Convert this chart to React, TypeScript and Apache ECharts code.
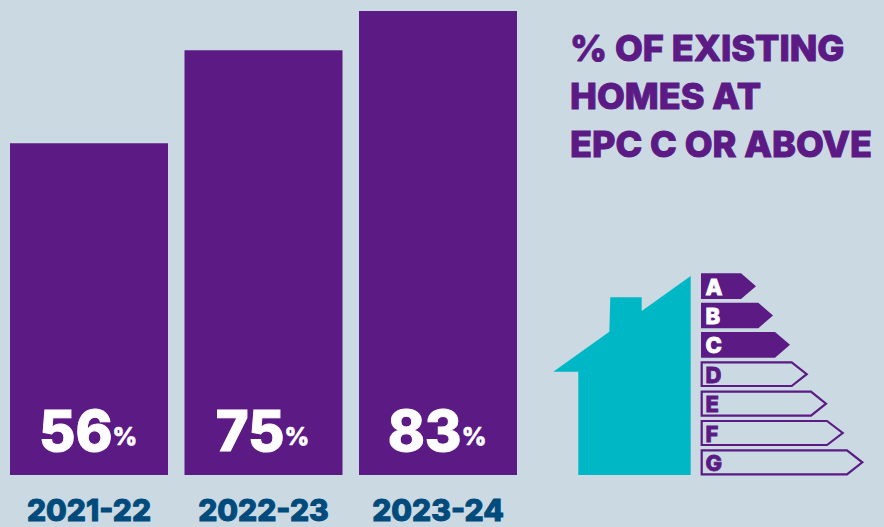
import React, { useEffect, useRef } from "react";
import * as echarts from "echarts";

const years = ["2021-22", "2022-23", "2023-24"];
const shareAtEpcC = [56, 75, 83];
const axisFloor = -11.8;
const axisCeil = 83;
const titleLines = ["% OF EXISTING", "HOMES AT", "EPC C OR ABOVE"];
const bandLetters = ["A", "B", "C", "D", "E", "F", "G"];
const filledBands = 3;

const PURPLE = "#5c1a85";
const TEAL = "#00b8c5";
const NAVY = "#004b7c";
const PAPER = "#cbd9e3";
const FONT = "Inter, 'Noto Sans', sans-serif";

// Page coordinates of the house silhouette.
const housePoints = [
  [690.7, 276], [690.7, 475], [578.3, 475], [578.3, 371.7], [553.3, 371.7],
  [609.3, 331.7], [610.3, 297.3], [641.7, 297.3], [641.7, 311],
];
// Each rating band: left edge, shoulder, tip, top, bottom.
const bandShapes = [
  [701, 741, 756, 273.3, 299],
  [701, 758.3, 773, 302.7, 328.3],
  [701, 775, 790, 332, 357.7],
  [701.7, 791.7, 806.7, 362.3, 386],
  [701.7, 811, 826, 391.7, 415.7],
  [701.7, 827, 842.7, 421, 445],
  [701.7, 847, 862.3, 450.3, 474.3],
];

function ratingBands() {
  return bandShapes.flatMap(([l, s, t, top, bottom], i) => {
    const filled = i < filledBands;
    const ink = filled ? "#ffffff" : PURPLE;
    return [
      {
        type: "polygon",
        shape: { points: [[l, top], [s, top], [t, (top + bottom) / 2], [s, bottom], [l, bottom]] },
        style: filled
          ? { fill: PURPLE, stroke: PURPLE, lineWidth: 0 }
          : { fill: "transparent", stroke: PURPLE, lineWidth: 2.2 },
      },
      {
        type: "text",
        x: 705.5,
        y: (top + bottom) / 2 + 0.5,
        style: {
          text: bandLetters[i],
          fill: ink,
          stroke: ink,
          lineWidth: 0.8,
          font: `800 22px ${FONT}`,
          verticalAlign: "middle",
        },
      },
    ];
  });
}

export default function App() {
  const ref = useRef<HTMLDivElement>(null);

  useEffect(() => {
    const chart = echarts.init(ref.current, undefined, { renderer: "svg" });
    chart.setOption({
      animation: false,
      backgroundColor: PAPER,
      title: {
        text: titleLines.join("\n"),
        left: 570,
        top: 24,
        padding: 0,
        textStyle: {
          color: PURPLE,
          fontFamily: FONT,
          fontWeight: 800,
          fontSize: 36,
          lineHeight: 48,
          textBorderColor: PURPLE,
          textBorderWidth: 1,
        },
      },
      grid: { left: 1.75, width: 523.5, top: 11, bottom: 52 },
      xAxis: {
        type: "category",
        data: years,
        axisLine: { show: false },
        axisTick: { show: false },
        axisLabel: {
          color: NAVY,
          fontFamily: FONT,
          fontWeight: 800,
          fontSize: 30,
          margin: 20,
          textBorderColor: NAVY,
          textBorderWidth: 1,
        },
      },
      yAxis: { type: "value", min: axisFloor, max: axisCeil, show: false, splitLine: { show: false } },
      series: [
        {
          type: "custom",
          data: shareAtEpcC,
          encode: { x: 0, y: 1 },
          clip: false,
          renderItem: (params: any, api: any) => {
            const i = api.value(0);
            const v = api.value(1);
            const top = api.coord([i, v]);
            const base = api.coord([i, axisFloor]);
            const width = 158;
            return {
              type: "group",
              children: [
                {
                  type: "rect",
                  shape: { x: top[0] - width / 2, y: top[1], width, height: base[1] - top[1] },
                  style: { fill: PURPLE },
                },
                {
                  type: "text",
                  x: top[0] - 1,
                  y: base[1] - 44,
                  style: {
                    text: `{n|${v}}{p|%}`,
                    align: "center",
                    verticalAlign: "middle",
                    rich: {
                      n: { fill: "#fff", stroke: "#fff", lineWidth: 1, font: `800 56px ${FONT}` },
                      p: { fill: "#fff", stroke: "#fff", lineWidth: 0.6, font: `800 24px ${FONT}`, padding: [10, 0, 0, 0] },
                    },
                  },
                },
              ],
            };
          },
        },
      ],
      graphic: [
        {
          type: "polygon",
          shape: { points: housePoints },
          style: { fill: TEAL },
        },
        ...ratingBands(),
      ],
    });
    return () => chart.dispose();
  }, []);

  return (
    <div
      ref={ref}
      style={{ position: "absolute", left: 0, top: 0, width: 884, height: 527 }}
    />
  );
}
